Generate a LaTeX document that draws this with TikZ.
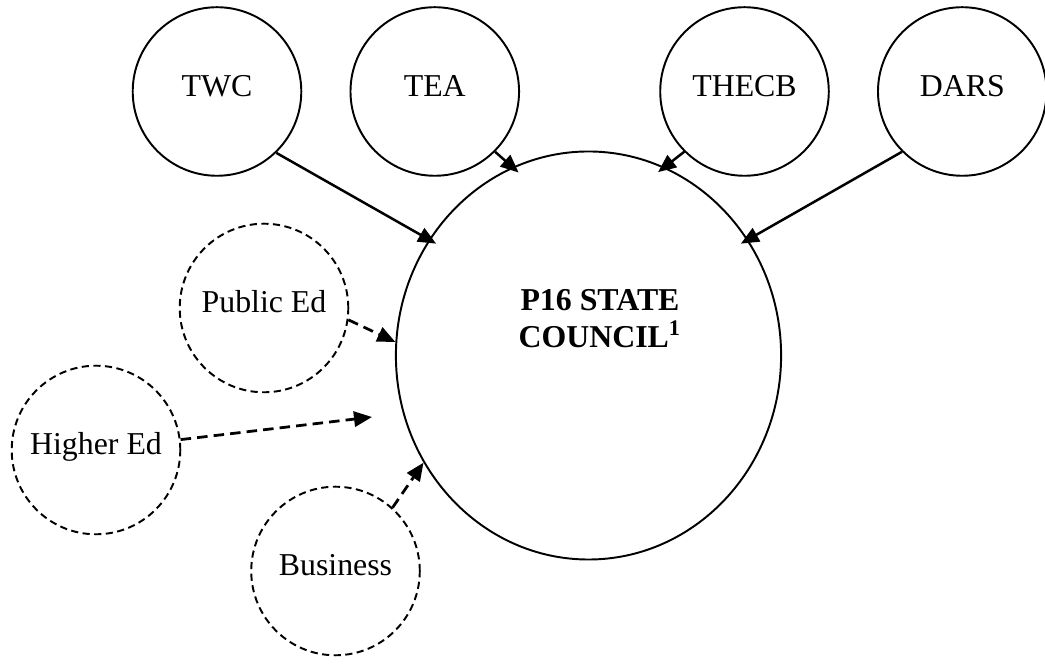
\documentclass[tikz,border=0pt]{standalone}
\usepackage{fontspec}
\setmainfont{Liberation Serif}
\usetikzlibrary{positioning,arrows.meta}
\usetikzlibrary{shapes.geometric}
\tikzset{
    agency/.style={circle, draw, line width=0.7pt, minimum size=2.14cm, inner sep=0pt,
        text height=8pt, text depth=4.5pt}, % the state agencies
    partner/.style={agency, dash pattern=on 2.6pt off 1.6pt}, % dashed stakeholder circles
    feeds/.style={-{Triangle[length=6.5pt,width=5.5pt]}, line width=0.9pt, shorten >=-3pt},
    advises/.style={feeds, line width=1pt, shorten >=0pt, dash pattern=on 3.8pt off 2.2pt},
}
\begin{document}
\begin{tikzpicture}[x=0.0127cm, y=-0.0127cm, font=\fontsize{11.5}{13.3}\selectfont]
  \useasboundingbox (0,0) rectangle (1045,670);

  % agencies along the top
  \node[agency] (twc) at (217,91.5) {TWC};
  \node[agency] (tea) [right=0.6cm of twc] {TEA};
  \node[agency] (thecb) at (744.5,91.5) {THECB};
  \node[agency] (dars) [right=0.6cm of thecb] {DARS};

  % the council
  \node[ellipse, draw, line width=0.7pt,
      minimum width=4.89cm, minimum height=5.18cm] (council) at (588.5,355.5) {};
  \node[font=\fontsize{11.5}{13.3}\selectfont\bfseries, align=center]
      (councilname) at (600,318.5) {P16 STATE\\COUNCIL\textsuperscript{1}};

  % stakeholders
  \node[partner] (publiced) at (264,308)   {Public Ed};
  \node[partner] (highered) at (96,450)    {Higher Ed};
  \node[partner] (business) at (335.5,571) {Business};
  \coordinate (heend) at (372,417);

  \path[feeds]
    (twc.-46)    edge (council.144)
    (tea.-45)    edge (council.112)
    (thecb.-135) edge (council.68)
    (dars.-135)  edge (council.36);
  \path[advises]
    (publiced.-8) edge (council.176)
    (highered.7)  edge (heend)
    (business.48) edge (council.213);
\end{tikzpicture}
\end{document}
